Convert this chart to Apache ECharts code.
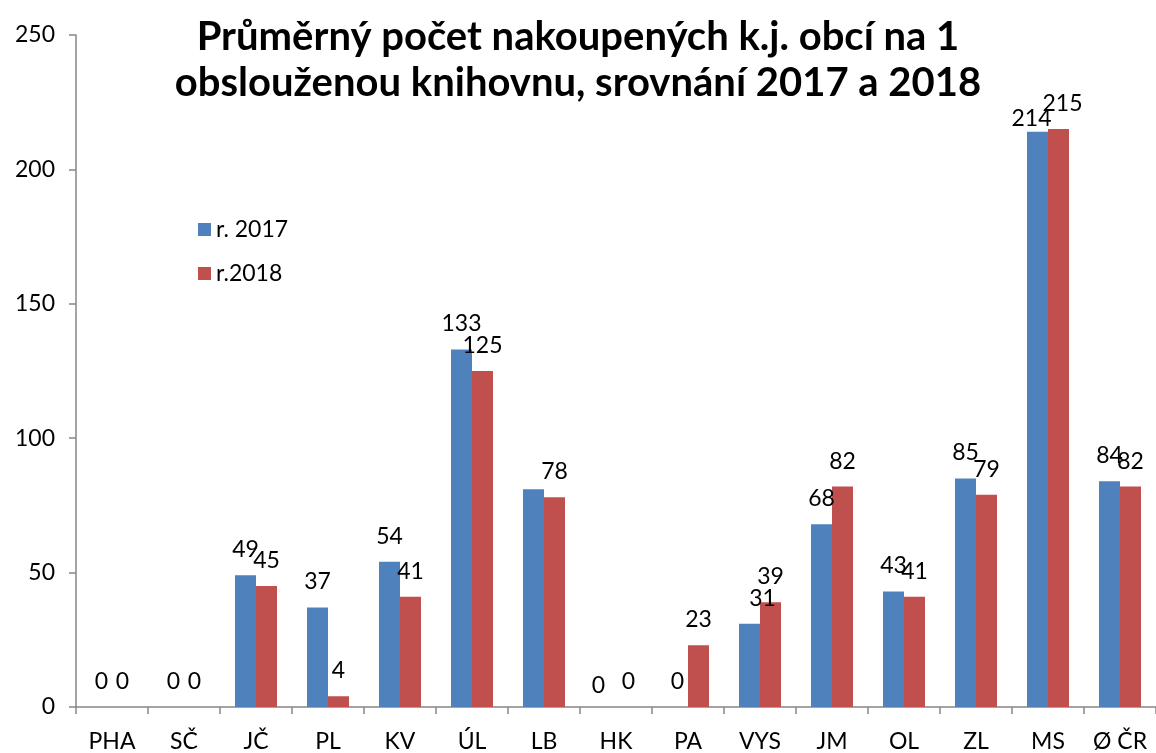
<!DOCTYPE html>
<html>
<head>
    <meta charset="utf-8">
    <title>Průměrný počet nakoupených k.j.</title>
    <script src="https://cdn.jsdelivr.net/npm/echarts@6/dist/echarts.min.js"></script>
    <style>
        html, body { margin: 0; padding: 0; background: #fff; }
        #main { width: 1156px; height: 753px; }
    </style>
</head>
<body>
    <div id="main"></div>
    <script>
        // data
        var kraje = ['PHA', 'SČ', 'JČ', 'PL', 'KV', 'ÚL', 'LB', 'HK', 'PA', 'VYS', 'JM', 'OL', 'ZL', 'MS', 'Ø ČR'];
        var rok2017 = [0, 0, 49, 37, 54, 133, 81, 0, 0, 31, 68, 43, 85, 214, 84];
        var rok2018 = [0, 0, 45, 4, 41, 125, 78, 0, 23, 39, 82, 41, 79, 215, 82];
        var yTicks = [0, 50, 100, 150, 200, 250];

        var font = 'Lato, "Liberation Sans", sans-serif';

        // a few labels sit a bit off in the original (moved by hand in Excel)
        var labelTweak2017 = { 6: { show: false }, 7: { offset: [-7, 4] }, 9: { offset: [13, 0] }, 13: { offset: [-6, 12] } };
        var labelTweak2018 = { 7: { offset: [2, 0] }, 13: { offset: [4, 0] } };

        function buildData(values, tweaks) {
            return values.map(function (v, i) {
                var item = { value: v };
                if (tweaks[i]) item.label = tweaks[i];
                return item;
            });
        }

        var myChart = echarts.init(document.getElementById('main'));
        var option = {
            animation: false,
            textStyle: { fontFamily: font },
            title: {
                text: 'Průměrný počet nakoupených k.j. obcí na 1\nobslouženou knihovnu, srovnání 2017 a 2018',
                left: 'center',
                top: 9,
                textStyle: { fontSize: 40, fontWeight: 'bold', color: '#000', lineHeight: 46, fontFamily: font }
            },
            legend: {
                orient: 'vertical',
                left: 193,
                top: 213,
                itemWidth: 13,
                itemHeight: 13,
                itemGap: 21,
                icon: 'rect',
                textStyle: { fontSize: 23, color: '#000', fontFamily: font },
                data: ['r. 2017', 'r.2018']
            },
            grid: { left: 76, top: 35, width: 1089, height: 672, containLabel: false },
            xAxis: {
                type: 'category',
                data: kraje,
                axisLine: { lineStyle: { color: '#868686', width: 1.5 } },
                axisTick: { show: true, length: 7, alignWithLabel: false, lineStyle: { color: '#868686', width: 1.5 } },
                axisLabel: { fontSize: 23, color: '#000', margin: 23, fontFamily: font }
            },
            yAxis: {
                type: 'value',
                min: yTicks[0],
                max: yTicks[yTicks.length - 1],
                interval: 50,
                splitLine: { show: false },
                axisLine: { show: true, lineStyle: { color: '#868686', width: 1.5 } },
                axisTick: { show: true, length: 7, lineStyle: { color: '#868686', width: 1.5 } },
                axisLabel: { fontSize: 23, color: '#000', margin: 21, fontFamily: font }
            },
            series: [{
                name: 'r. 2017',
                type: 'bar',
                barWidth: 21,
                barGap: '0%',
                itemStyle: { color: '#4F81BD' },
                label: { show: true, position: 'top', distance: 14, fontSize: 23, color: '#000', fontFamily: font },
                data: buildData(rok2017, labelTweak2017)
            }, {
                name: 'r.2018',
                type: 'bar',
                barWidth: 21,
                barGap: '0%',
                itemStyle: { color: '#C0504D' },
                label: { show: true, position: 'top', distance: 14, fontSize: 23, color: '#000', fontFamily: font },
                data: buildData(rok2018, labelTweak2018)
            }]
        };
        myChart.setOption(option);
    </script>
</body>
</html>
